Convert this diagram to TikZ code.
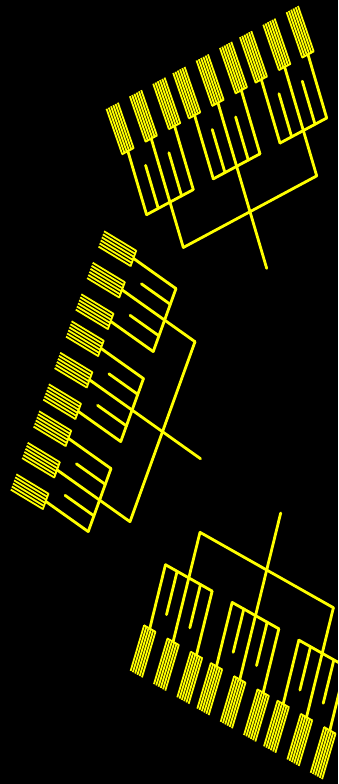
\documentclass[tikz,border=0pt]{standalone}
\usepackage{tikz}
\definecolor{twig}{HTML}{FFFF00}
\tikzset{
  limb/.style={draw=twig,line width=2.8pt,line cap=round},
  twiglet/.style={draw=twig,line width=1.8pt},
}
% leaf bundle: base point (#1,#2) in the tree's own frame
\newcommand{\leafbundle}[2]{%
  \draw[twiglet] (#1-0.09,#2) -- (#1+0.09,#2);
  \foreach \k in {0,...,5}
    \draw[twiglet] (#1-0.085+0.034*\k,#2) -- (#1-0.115+0.034*\k,#2+0.82);
}
% one tree: root stem, main bar, three sub-bars, nine leaves
\newcommand{\fractree}{%
  \draw[limb] (0,-1) -- (0,0);
  \draw[limb] (-1,0) -- (1,0);
  \foreach \a in {-1,0,1}{
    \draw[limb] (\a,0) -- (\a,0.8);
    \draw[limb] (\a-0.35,0.8) -- (\a+0.35,0.8);
    \foreach \b in {-0.35,0,0.35}{
      \draw[limb] (\a+\b,0.8) -- (\a+\b,1.92);
      \leafbundle{\a+\b}{1.92}
    }
    \foreach \b in {-0.175,0.175}
      \draw[limb] (\a+\b,0.8) -- (\a+\b,1.56);
  }
}

\begin{document}
\begin{tikzpicture}[x=1pt,y=-1pt]
\fill[black] (0,0) rectangle (338,784);
\useasboundingbox (0,0) rectangle (338,784);
\clip (0,0) rectangle (338,784);
% top tree
\begin{scope}[shift={(250,211.7)},x={(66.7pt,35.8pt)},y={(-16.7pt,56.7pt)}]
  \fractree
\end{scope}
% middle tree
\begin{scope}[shift={(162.5,431.7)},x={(32.5pt,90pt)},y={(-38pt,27pt)}]
  \fractree
\end{scope}
% bottom tree
\begin{scope}[shift={(266.7,570)},x={(66.7pt,-37.7pt)},y={(-14pt,-57pt)}]
  \fractree
\end{scope}
\end{tikzpicture}
\end{document}
